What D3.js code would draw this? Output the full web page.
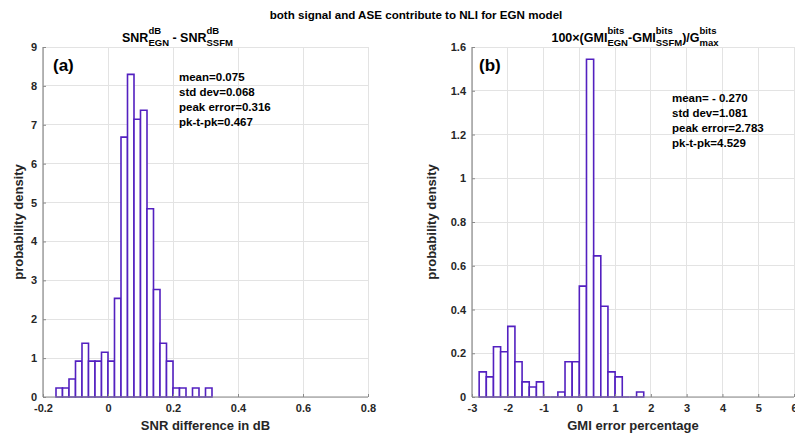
<!DOCTYPE html>
<html>
<head>
<meta charset="utf-8">
<script src="https://cdn.jsdelivr.net/npm/d3@7"></script>
<style>
html,body{margin:0;padding:0;background:#fff;}
svg{display:block;font-family:"Liberation Sans",Arial,sans-serif;font-weight:bold;}
</style>
</head>
<body>
<svg id="chart" width="795" height="434"></svg>
<script>
// ---- data ----
const snrBinStart = -0.16;
const snrBinWidth = 0.02;
const snrDensity = [0.230,0.230,0.461,0.922,1.382,0.922,0.922,1.152,0.922,2.535,6.682,8.295,7.143,7.373,4.839,2.765,1.382,0.922,0.230,0.230,0,0.230,0,0.230];
const snrXTicks = [-0.2,0,0.2,0.4,0.6,0.8];
const snrYTicks = [0,1,2,3,4,5,6,7,8,9];
const snrStats = ["mean=0.075","std dev=0.068","peak error=0.316","pk-t-pk=0.467"];

const gmiBinStart = -2.8;
const gmiBinWidth = 0.2;
const gmiDensity = [0.115,0.092,0.230,0.207,0.323,0.161,0.069,0.046,0.069,0,0,0.023,0.161,0.161,0.507,1.544,0.645,0.415,0.115,0.092,0,0,0.023];
const gmiXTicks = [-3,-2,-1,0,1,2,3,4,5,6];
const gmiYTicks = [0,0.2,0.4,0.6,0.8,1,1.2,1.4,1.6];
const gmiStats = ["mean= - 0.270","std dev=1.081","peak error=2.783","pk-t-pk=4.529"];

const svg = d3.select("#chart");
const barColor = "#5320c0";
const txtColor = "#262626";

function panel(o){
  const x = d3.scaleLinear().domain(o.xDomain).range([o.left, o.right]);
  const y = d3.scaleLinear().domain(o.yDomain).range([o.bottom, o.top]);
  const g = svg.append("g");
  // grid
  g.append("g").selectAll("line.v").data(o.xTicks).join("line")
    .attr("x1", d=>x(d)).attr("x2", d=>x(d)).attr("y1", o.top).attr("y2", o.bottom)
    .attr("stroke", "#e3e3e3").attr("stroke-width", 1).attr("shape-rendering","crispEdges");
  g.append("g").selectAll("line.h").data(o.yTicks).join("line")
    .attr("y1", d=>y(d)).attr("y2", d=>y(d)).attr("x1", o.left).attr("x2", o.right)
    .attr("stroke", "#e3e3e3").attr("stroke-width", 1).attr("shape-rendering","crispEdges");
  // bars
  const bins = o.density.map((v,i)=>({x0:o.binStart+i*o.binWidth, x1:o.binStart+(i+1)*o.binWidth, v}));
  g.append("g").selectAll("path").data(bins).join("path")
    .attr("d", d=>`M${x(d.x0)},${y(0)}V${y(d.v)}H${x(d.x1)}V${y(0)}Z`)
    .attr("fill", "#fff").attr("stroke", barColor).attr("stroke-width", 1.6);
  // axes
  const xa = d3.axisBottom(x).tickValues(o.xTicks).tickSize(-3).tickPadding(7).tickFormat(d=>String(d));
  const ya = d3.axisLeft(y).tickValues(o.yTicks).tickSize(-3).tickPadding(6).tickFormat(d=>String(d));
  const gx = g.append("g").attr("transform", `translate(0,${o.bottom})`).call(xa);
  const gy = g.append("g").attr("transform", `translate(${o.left},0)`).call(ya);
  [gx, gy].forEach(a=>{
    a.select(".domain").attr("stroke", "#8a8a8a").attr("stroke-width", 1.2);
    a.selectAll(".tick line").attr("stroke", "#8a8a8a");
    a.selectAll("text").attr("fill", txtColor).style("font-size", "11px").style("font-weight","bold")
      .style("font-family", '"Liberation Sans",Arial,sans-serif');
  });
  gx.select(".domain").attr("d", `M${o.left},0H${o.right}`);
  gy.select(".domain").attr("d", `M0,${o.bottom}V${o.top}`);
  // axis labels
  svg.append("text").attr("x", (o.left+o.right)/2).attr("y", 430).attr("text-anchor","middle")
    .attr("fill", txtColor).style("font-size","13px").text(o.xLabel);
  svg.append("text").attr("transform", `translate(${o.yLabelX},${(o.top+o.bottom)/2}) rotate(-90)`)
    .attr("text-anchor","middle").attr("fill", txtColor).style("font-size","13px").text("probability density");
  // panel letter
  svg.append("text").attr("x", o.letterX).attr("y", 71).attr("fill","#000").style("font-size","17px").text(o.letter);
  // stats
  const st = svg.append("text").attr("fill","#000").style("font-size","11.5px");
  o.stats.forEach((s,i)=>{
    st.append("tspan").attr("x", o.statX).attr("y", o.statY + i*15.2).text(s);
  });
}

panel({xDomain:[-0.2,0.8], yDomain:[0,9], left:43, right:368, top:47, bottom:397,
  xTicks:snrXTicks, yTicks:snrYTicks, density:snrDensity, binStart:snrBinStart, binWidth:snrBinWidth,
  xLabel:"SNR difference in dB", yLabelX:23, letter:"(a)", letterX:53, stats:snrStats, statX:179, statY:80.5});
panel({xDomain:[-3,6], yDomain:[0,1.6], left:472, right:794, top:47, bottom:397,
  xTicks:gmiXTicks, yTicks:gmiYTicks, density:gmiDensity, binStart:gmiBinStart, binWidth:gmiBinWidth,
  xLabel:"GMI error percentage", yLabelX:436, letter:"(b)", letterX:479, stats:gmiStats, statX:672, statY:101.5});

// main title
svg.append("text").attr("x", 416).attr("y", 19).attr("text-anchor","middle").attr("fill","#000")
  .style("font-size","11.6px").text("both signal and ASE contribute to NLI for EGN model");

// subtitles with stacked super/subscripts
function richTitle(segs, startX, baseY, centerX){
  const g = svg.append("g");
  let cx = 0;
  segs.forEach(s=>{
    if (s.n !== undefined){
      const t = g.append("text").attr("x", cx).attr("y", 0).style("font-size","12.5px")
        .style("white-space","pre").attr("fill","#000").text(s.n);
      cx += t.node().getComputedTextLength();
    } else {
      const a = g.append("text").attr("x", cx).attr("y", -8).style("font-size","9.5px").attr("fill","#000").text(s.sup);
      const b = g.append("text").attr("x", cx).attr("y", 4).style("font-size","9.5px").attr("fill","#000").text(s.sub);
      cx += Math.max(a.node().getComputedTextLength(), b.node().getComputedTextLength());
    }
  });
  const x0 = centerX !== undefined ? centerX - cx/2 : startX;
  g.attr("transform", `translate(${x0},${baseY})`);
}
richTitle([{n:"SNR"},{sup:"dB",sub:"EGN"},{n:"\u00a0- SNR"},{sup:"dB",sub:"SSFM"}], 122, 41.5);
richTitle([{n:"100\u00d7(GMI"},{sup:"bits",sub:"EGN"},{n:"-GMI"},{sup:"bits",sub:"SSFM"},{n:")/G"},{sup:"bits",sub:"max"}], 553, 41.5, 635);
</script>
</body>
</html>
